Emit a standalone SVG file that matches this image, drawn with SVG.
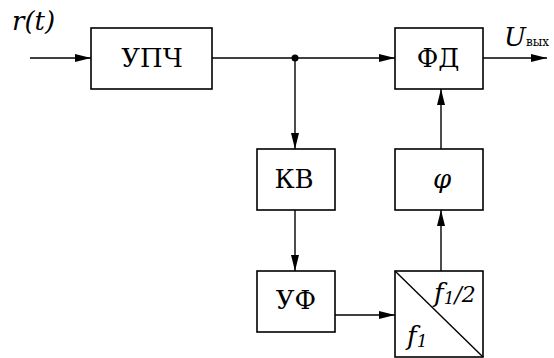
<svg xmlns="http://www.w3.org/2000/svg" width="554" height="358" viewBox="0 0 554 358">
<style>
.box{fill:#fff;stroke:#000;stroke-width:1.6}
.ln{fill:none;stroke:#000;stroke-width:1.4}
.t{font-family:"DejaVu Serif",serif;font-size:26px;fill:#000}
.i{font-style:italic}
</style>
<defs>
<marker id="ah" markerWidth="16" markerHeight="8" refX="16" refY="4" orient="auto" markerUnits="userSpaceOnUse">
<path d="M0,0 L16,4 L0,8 Z" fill="#000"/>
</marker>
</defs>
<rect width="554" height="358" fill="#fff"/>
<g id="connectors">
<line class="ln" x1="30" y1="58" x2="91" y2="58" marker-end="url(#ah)"/>
<line class="ln" x1="212" y1="58" x2="395" y2="58" marker-end="url(#ah)"/>
<circle cx="295" cy="58" r="3.5" fill="#000"/>
<line class="ln" x1="295" y1="58" x2="295" y2="149" marker-end="url(#ah)"/>
<line class="ln" x1="483" y1="58" x2="547" y2="58" marker-end="url(#ah)"/>
<line class="ln" x1="441" y1="149" x2="441" y2="89" marker-end="url(#ah)"/>
<line class="ln" x1="295" y1="210" x2="295" y2="271" marker-end="url(#ah)"/>
<line class="ln" x1="335" y1="315" x2="395" y2="315" marker-end="url(#ah)"/>
<line class="ln" x1="441" y1="271" x2="441" y2="210" marker-end="url(#ah)"/>
</g>
<g id="labels">
<text class="t i" x="12" y="30">r(t)</text>
<text class="t i" x="504" y="46" font-size="24">U<tspan font-style="normal" font-size="12">вых</tspan></text>
</g>
<g id="upch">
<rect class="box" x="91" y="28" width="121" height="61"/>
<text class="t" x="152" y="67" text-anchor="middle">УПЧ</text>
</g>
<g id="fd">
<rect class="box" x="395" y="28" width="88" height="61"/>
<text class="t" x="438" y="67" text-anchor="middle">ФД</text>
</g>
<g id="kv">
<rect class="box" x="257" y="149" width="78" height="61"/>
<text class="t" x="294" y="188" text-anchor="middle">КВ</text>
</g>
<g id="phi">
<rect class="box" x="395" y="149" width="88" height="61"/>
<text class="t i" x="442" y="188" text-anchor="middle" font-size="30">φ</text>
</g>
<g id="uf">
<rect class="box" x="257" y="271" width="78" height="61"/>
<text class="t" x="296" y="309" text-anchor="middle">УФ</text>
</g>
<g id="divider">
<rect class="box" x="395" y="271" width="88" height="86"/>
<line class="ln" x1="395" y1="271" x2="483" y2="357"/>
<text class="t i" x="434" y="302" font-size="22">f<tspan font-size="17" dy="2">1</tspan><tspan dy="-2" font-size="22">/2</tspan></text>
<text class="t i" x="407" y="345" font-size="22">f<tspan font-size="17" dy="2">1</tspan></text>
</g>
</svg>
